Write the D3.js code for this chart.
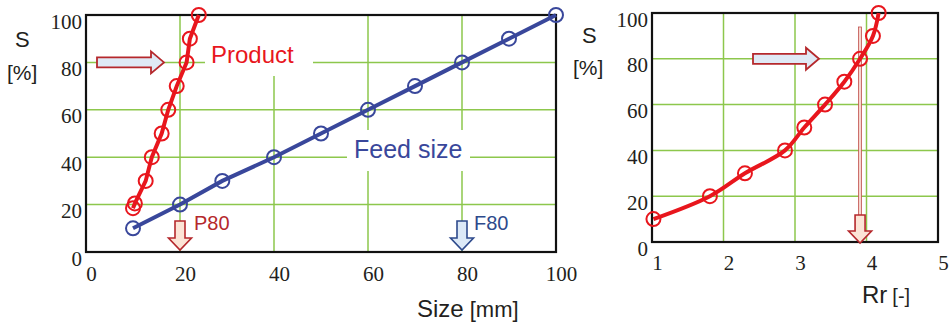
<!DOCTYPE html>
<html><head><meta charset="utf-8">
<script src="https://cdn.jsdelivr.net/npm/d3@7"></script>
<style>html,body{margin:0;padding:0;background:#fff}svg{display:block}</style>
</head><body>
<svg id="c" width="951" height="322"></svg>
<script>
// ---- data ----
const sizeTicks = [0, 20, 40, 60, 80, 100];
const sTicks = [0, 20, 40, 60, 80, 100];
const rrTicks = [1, 2, 3, 4, 5];
const feedSize = [10, 20, 29, 40, 50, 60, 70, 80, 90, 100];
const feedS = [10, 20, 30, 40, 50, 60, 70, 80, 90, 100];
const productSize = [10, 10.4, 12.7, 14, 16.1, 17.5, 19.3, 21.4, 22.1, 24];
const productS = [18.5, 20.5, 30, 40, 50, 60, 70, 80, 90, 100];
const rrValues = [1.02, 1.81, 2.3, 2.86, 3.13, 3.42, 3.69, 3.91, 4.09, 4.17];
const rrS = [10, 20, 30, 40, 50, 60, 70, 80, 90, 100];
const p80 = 20, f80 = 80, rr80 = 3.91, sLevel = 80;

const svg = d3.select("#c");
const RED = "#e8161d", BLUE = "#39479b", GRID = "#8dc74c", TXT = "#231f20";
const DARKRED = "#b5282c";
const SERIF = '"Liberation Serif"';
const SANS = '"Liberation Sans"';

function panel(o) {
  const x = d3.scaleLinear().domain(o.xd).range([o.x0, o.x1]);
  const y = d3.scaleLinear().domain([0, 100]).range([o.y1, o.y0]);
  const g = svg.append("g");
  g.selectAll(".gx").data(o.xt.slice(1, -1)).join("line")
    .attr("x1", d => x(d)).attr("x2", d => x(d)).attr("y1", o.y0).attr("y2", o.y1)
    .attr("stroke", GRID).attr("stroke-width", 1.5);
  g.selectAll(".gy").data(sTicks.slice(1, -1)).join("line")
    .attr("y1", d => y(d)).attr("y2", d => y(d)).attr("x1", o.x0).attr("x2", o.x1)
    .attr("stroke", GRID).attr("stroke-width", 1.5);
  g.selectAll(".ty").data(sTicks).join("text").style("font-family", SERIF)
    .attr("x", o.x0 - 4).attr("y", d => y(d) + 13.5).attr("text-anchor", "end")
    .attr("font-size", 21).attr("fill", TXT).text(d => d);
  g.selectAll(".tx").data(o.xt).join("text").style("font-family", SERIF)
    .attr("x", d => x(d) + 5.5).attr("y", o.xlabY).attr("text-anchor", "middle")
    .attr("font-size", 21).attr("fill", TXT).text(d => d);
  return {x, y, g};
}

function rightArrow(g, xa, xb, cy) {
  const p = [[xa, cy - 5], [xb - 13, cy - 5], [xb - 13, cy - 11], [xb, cy], [xb - 13, cy + 11], [xb - 13, cy + 5], [xa, cy + 5]];
  g.append("polygon").attr("points", p.join(" ")).attr("fill", "#dfe9f5")
    .attr("stroke", DARKRED).attr("stroke-width", 1.8);
}
function downArrow(g, cx, ya, yb, fill, stroke) {
  const p = [[cx - 5, ya], [cx + 5, ya], [cx + 5, yb - 12], [cx + 11.5, yb - 12], [cx, yb], [cx - 11.5, yb - 12], [cx - 5, yb - 12]];
  g.append("polygon").attr("points", p.join(" ")).attr("fill", fill)
    .attr("stroke", stroke).attr("stroke-width", 1.6);
}
function txt(x, y, size, color, s) {
  return svg.append("text").style("font-family", SANS).attr("x", x).attr("y", y)
    .attr("font-size", size).attr("fill", color).text(s);
}

// ---------------- left panel ----------------
const L = panel({x0: 86, x1: 556, y0: 15, y1: 252, xd: [0, 100], xt: sizeTicks, xlabY: 281});
L.g.append("rect").attr("x", 205).attr("y", 16).attr("width", 108).attr("height", 60).attr("fill", "#fff");
L.g.append("rect").attr("x", 347).attr("y", 130).attr("width", 123).attr("height", 41).attr("fill", "#fff");
L.g.append("rect").attr("x", 86).attr("y", 15).attr("width", 470).attr("height", 237)
  .attr("fill", "none").attr("stroke", "#111").attr("stroke-width", 2.2);
txt(211, 63, 24, RED, "Product");
txt(354, 158, 25, BLUE, "Feed size");
rightArrow(L.g, 97, 164, L.y(sLevel));
downArrow(L.g, L.x(p80), 221, 250, "#fce4d6", DARKRED);
downArrow(L.g, L.x(f80), 221, 250, "#dce9f7", "#2e4a8c");
txt(L.x(p80) + 14, 230, 20, DARKRED, "P80");
txt(L.x(f80) + 12, 230, 20, "#2e4a8c", "F80");
const feed = feedSize.map((d, i) => [d, feedS[i]]);
L.g.append("path").datum(feed)
  .attr("d", d3.line().x(d => L.x(d[0])).y(d => L.y(d[1])))
  .attr("fill", "none").attr("stroke", BLUE).attr("stroke-width", 4);
L.g.selectAll(".fc").data(feed).join("circle")
  .attr("cx", d => L.x(d[0])).attr("cy", d => L.y(d[1])).attr("r", 7)
  .attr("fill", "none").attr("stroke", BLUE).attr("stroke-width", 2);
const prod = productSize.map((d, i) => [d, productS[i]]);
L.g.append("path").datum(prod)
  .attr("d", d3.line().x(d => L.x(d[0])).y(d => L.y(d[1])))
  .attr("fill", "none").attr("stroke", RED).attr("stroke-width", 4);
L.g.selectAll(".pc").data(prod).join("circle")
  .attr("cx", d => L.x(d[0])).attr("cy", d => L.y(d[1])).attr("r", 7)
  .attr("fill", "none").attr("stroke", RED).attr("stroke-width", 2);
txt(15, 47, 22, TXT, "S");
txt(7, 80, 21, TXT, "[%]");
const st = txt(417, 317, 24, TXT, "");
st.append("tspan").attr("font-size", 24).text("Size");
st.append("tspan").attr("font-size", 22).attr("dx", 6).text("[mm]");

// ---------------- right panel ----------------
const R = panel({x0: 652, x1: 938, y0: 13, y1: 242, xd: [1, 5], xt: rrTicks, xlabY: 270});
R.g.append("rect").attr("x", 652).attr("y", 13).attr("width", 286).attr("height", 229)
  .attr("fill", "none").attr("stroke", "#111").attr("stroke-width", 2.2);
rightArrow(R.g, 753, 819, R.y(sLevel));
R.g.append("rect").attr("x", R.x(rr80) - 1.5).attr("y", 27).attr("width", 3).attr("height", 190)
  .attr("fill", "#f6d6cf").attr("stroke", "#c0504d").attr("stroke-width", 0.8);
downArrow(R.g, R.x(rr80), 215, 243, "#fce4d6", DARKRED);
const rr = rrValues.map((d, i) => [d, rrS[i]]);
R.g.append("path").datum(rr)
  .attr("d", d3.line().curve(d3.curveCatmullRom).x(d => R.x(d[0])).y(d => R.y(d[1])))
  .attr("fill", "none").attr("stroke", RED).attr("stroke-width", 4);
R.g.selectAll(".rc").data(rr).join("circle")
  .attr("cx", d => R.x(d[0])).attr("cy", d => R.y(d[1])).attr("r", 7)
  .attr("fill", "none").attr("stroke", RED).attr("stroke-width", 2);
txt(582, 43, 22, TXT, "S");
txt(573, 75, 21, TXT, "[%]");
const rt = txt(862, 303, 24, TXT, "");
rt.append("tspan").attr("font-size", 24).text("Rr");
rt.append("tspan").attr("font-size", 20).attr("dx", 5).text("[-]");
</script>
</body></html>
